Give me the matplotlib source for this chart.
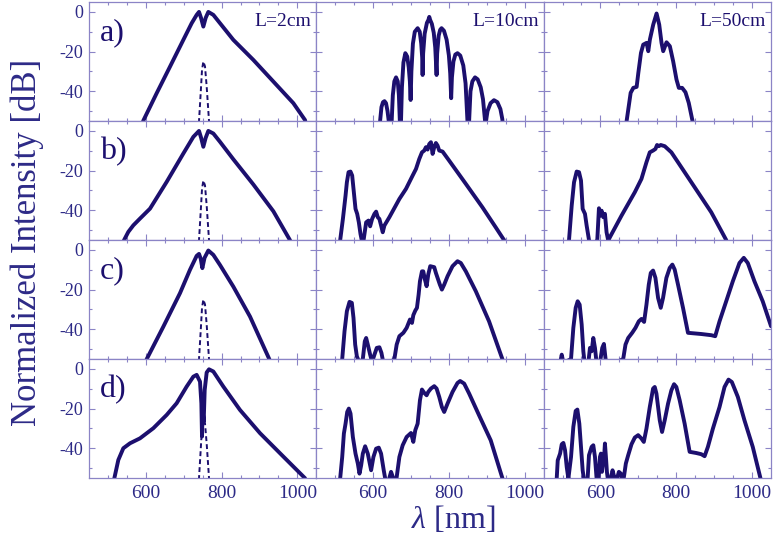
import matplotlib.pyplot as plt

plt.rcParams["font.family"] = ["Liberation Serif", "DejaVu Serif"]
plt.rcParams["axes.unicode_minus"] = False
plt.rcParams["mathtext.fontset"] = "custom"
plt.rcParams["mathtext.it"] = "Liberation Serif:italic"
plt.rcParams["mathtext.rm"] = "Liberation Serif"

line_col = "#1c0f6e"
frame_col = "#8b84c6"
text_col = "#2d2a87"

# ---- column 1 (L = 2 cm) ----
a1_nm = [585, 593.4, 628.6, 663.8, 699.0, 721.0, 734.2, 740.4, 745.7, 751.8, 758.0, 765.0,
         778.2, 795.8, 831.0, 883.8, 936.6, 989.4, 1020.2, 1026]
a1_db = [-60, -54.8, -41.0, -27.6, -14.1, -5.7, -1.5, 0.0, -3.0, -7.4, -3.0, 0.0,
         -1.5, -5.7, -14.1, -24.2, -35.1, -46.0, -54.5, -60]

b1_nm = [538, 542.4, 553.8, 567.0, 584.6, 611.0, 655.0, 699.0, 725.4, 740.4, 746, 751.8, 758,
         765.0, 778.2, 795.8, 831.0, 883.8, 936.6, 980.6, 985]
b1_db = [-60, -55.1, -50.9, -47.6, -44.2, -39.2, -25.7, -11.4, -3.0, 0.0, -3.5, -8.0, -3.5,
         0.0, -1.3, -5.5, -14.3, -27.0, -40.5, -55.1, -60]

c1_nm = [597, 602.2, 646.2, 690.2, 716.6, 734.2, 740.4, 745, 749.2, 755, 765.0,
         778.2, 795.8, 831.0, 875.0, 926.0, 932]
c1_db = [-60, -55.1, -38.7, -21.8, -10.0, -3.0, -2.0, -4.5, -9.2, -4, -0.3,
         -2.5, -7.6, -18.5, -33.6, -55.1, -60]

d1_nm = [512, 516.9, 527.4, 540.6, 558.2, 584.6, 619.8, 655.0, 681.4, 707.8, 725.4, 734.2,
         743.0, 746.6, 748.3, 750.0, 752.7, 755.4, 760.6, 766.8, 778.2, 804.6, 848.6, 901.4,
         963.0, 1020.2, 1025]
d1_db = [-60, -55.1, -45.9, -40.0, -37.5, -35.0, -29.9, -23.2, -17.3, -8.9, -3.9, -3.0,
         -6.4, -17.3, -34.1, -20.7, -26.7, -10.6, -1.8, -0.2, -1.3, -8.9, -20.7, -32.4,
         -44.2, -55.1, -60]

# input pulse (dashed), same in every row of column 1
pump_nm = [738, 740.4, 744.8, 748.3, 751.8, 756.2, 760.6, 766.8, 769]
pump_db = [-60, -55, -41, -29.3, -25, -27.5, -37.6, -55, -60]

# ---- column 2 (L = 10 cm) ----
a2_nm = [614, 618.4, 622, 626, 630, 634, 638, 641.2, 645,
         649, 652, 656, 660.5, 665, 668, 670.5, 672,
         673.6, 676, 680, 685, 690, 694, 697, 699,
         701, 705, 710, 717.5, 723, 727, 729.5, 730.6,
         732, 736, 742, 746, 748.2, 750.5, 755, 760, 764, 767.5,
         769, 773, 777, 780.6, 787, 794, 800, 803.5, 806,
         808, 812, 817, 822.7, 830, 838, 844, 849, 851,
         853.4, 857, 862, 869, 876, 884, 890, 895.5, 897,
         898, 902, 910, 919, 928, 936, 941, 944]
a2_db = [-62, -55, -48, -45.5, -45, -46, -50, -55, -62,
         -55, -42, -35, -33, -35, -42, -55, -60,
         -55, -38, -25.5, -20.8, -22.5, -28, -35, -44.4,
         -30, -16, -10, -8.2, -10, -16, -23, -31.8,
         -21, -11, -5.5, -4, -2.5, -4, -6, -10.5, -18, -31.8,
         -21, -12, -9, -8.2, -9.5, -14, -22, -31, -43.5,
         -33, -25, -21.5, -20.8, -22, -27, -36, -55, -62,
         -55, -40, -35, -33, -34, -38, -44, -55, -60,
         -55, -50, -46, -44.5, -45.5, -49, -54, -60]

b2_nm = [510, 513.1, 520.2, 527.2, 530.7, 535.1, 540.3, 544.7, 549.1, 553.5, 557.9, 562.3, 566.6,
         572.8, 577.2, 581.6, 587.7, 592.1, 597.3, 603.5, 607.9, 612.2, 616.6, 621.0, 625.4,
         629.8, 642.9, 669.3, 686.8, 704.3, 713.1, 721.9, 728.9, 735.0, 739.4, 743.8, 748.2,
         752.6, 757.0, 761.3, 765.7, 770.1, 774.5, 783.3, 800.8, 844.7, 888.5, 923.6, 945.5, 950]
b2_db = [-60, -55, -44.4, -32.6, -25.9, -20.8, -20.5, -22.5, -30.9, -39.3, -41.8, -46.1, -51.9,
         -57.8, -51.9, -46.1, -45.2, -48.1, -44.4, -41.8, -40.7, -43.5, -44.4, -47.7, -51.1,
         -47.7, -43.5, -34.3, -29.2, -22.5, -19.2, -14.1, -10.8, -9.9, -8.2, -9.4, -6.6,
         -5.7, -11.6, -8.2, -6.1, -7.4, -9.9, -10.4, -15.0, -26.7, -38.5, -48.6, -55, -60]

c2_nm = [515, 518.4, 524.5, 530.7, 537.7, 543.8, 548.2, 552.6, 557.0, 564.0, 572.8, 578.0,
         581.6, 585.9, 592.1, 597.3, 603.5, 609.6, 616.6, 621.9, 625.4, 634.2, 656.1, 662.2,
         669.3, 679.8, 688.5, 697.3, 702.6, 706.1, 711.3, 715.7, 720.1, 723.6, 728.9, 732.4,
         736.8, 741.2, 745.5, 750.8, 761.3, 765.7, 776.2, 781.5, 787.6, 796.4, 809.6, 822.7,
         831.5, 844.7, 871.0, 906.0, 941.1, 945]
c2_db = [-60, -55, -41, -30.9, -26.2, -26.7, -34.3, -47.7, -53.6, -57, -55, -46.1,
         -44.4, -47.7, -52.8, -56.5, -52.8, -49.4, -49.1, -51.9, -55.3, -58.7, -55, -47.7,
         -43.5, -41.8, -39.3, -35.1, -36.8, -32.9, -30.6, -29.2, -22.5, -15.8, -10.8, -10.8,
         -15.0, -18.3, -12.4, -8.2, -8.7, -11.6, -17.5, -20.0, -17.5, -13.3, -8.2, -5.7,
         -6.6, -10.8, -20.8, -36.0, -55, -60]

d2_nm = [510, 513.1, 518.4, 522.8, 527.2, 531.6, 535.9, 540.3, 546.5, 553.5, 559.6, 564.0,
         568.4, 572.8, 578.9, 585.9, 594.7, 600.8, 607.9, 614.9, 621.0, 628.0, 632.4, 641.2,
         647.3, 653.5, 660.5, 669.3, 678.0, 688.5, 700.0, 706.1, 711.3, 717.5, 723.6, 728.9,
         735.0, 741.2, 745.5, 752.6, 761.3, 767.5, 774.5, 781.5, 787.6, 796.4, 809.6, 822.7,
         829.7, 840.3, 853.4, 879.7, 910.4, 941.1, 945]
d2_db = [-60, -55, -44.4, -32.6, -27.6, -21.7, -20.0, -22.5, -34.3, -42.7, -47.7, -52.8,
         -48.6, -42.7, -39.0, -42.7, -51.1, -44.4, -40.2, -39.7, -42.7, -51.1, -55.8, -56.1,
         -51.9, -55.3, -57, -44.4, -38.5, -34.3, -32.3, -36.8, -30.9, -27.6, -15.8, -10.4,
         -12.1, -13.3, -11.6, -9.9, -8.7, -9.9, -14.1, -19.2, -21.7, -17.5, -11.6, -7.1,
         -6.1, -7.4, -12.4, -23.4, -36.0, -55, -60]

# ---- column 3 (L = 50 cm) ----
a3_nm = [665, 669.3, 679.8, 686.8, 695.6, 700.0, 707.0, 713.0, 721.9, 726.3, 730.6, 739.4,
         748.2, 755.2, 761.3, 765.7, 774.5, 783.3, 792.0, 800.8, 807.0, 815.7, 824.5, 833.2,
         842.9, 846]
a3_db = [-60, -54.8, -40.8, -38.3, -37.8, -30.8, -20.7, -16.5, -15.6, -19.8, -13.9, -6.4,
         -0.8, -6.4, -15.6, -19.8, -15.3, -17.3, -24.9, -34.1, -38.3, -38.3, -40.5, -45.9,
         -54.8, -60]

b3_nm = [514, 517.1, 524.2, 530.3, 537.3, 543.5, 548.7, 553.1, 559.2, 563.6, 569.8, 576.8,
         591.7, 596.1, 599.6, 603.1, 607.5, 611.9, 616.2, 620.6, 625.0, 655.7, 690.8, 708.3,
         721.5, 730.3, 739.0, 745.2, 749.5, 754.0, 759.2, 769.7, 787.3, 804.8, 848.7, 892.5,
         932.0, 936]
b3_db = [-60, -55, -37.6, -25.9, -20.5, -20.8, -25.0, -39.3, -41.8, -47.7, -55, -58.7,
         -55, -39.0, -42.7, -40.2, -43.5, -41.8, -51.1, -55.3, -53.6, -42.7, -30.9, -24.2,
         -15.8, -10.8, -9.9, -9.1, -7.1, -7.7, -7.1, -7.7, -10.8, -15.8, -28.4, -41.0,
         -55, -60]

c3_nm = [493.5, 497.9, 502.2, 522.4, 528.5, 534.7, 539.9, 545.2, 550.5, 554.9, 559.2, 568.0,
         572.4, 576.8, 581.2, 585.6, 589.9, 598.7, 604.8, 609.2, 613.6, 620.6, 660.1, 666.2,
         673.3, 683.8, 692.5, 701.3, 708.3, 715.3, 721.5, 727.6, 732.9, 739.0, 745.2, 752.2,
         759.2, 765.3, 774.1, 782.9, 789.9, 796.0, 804.8, 818.0, 831.1, 866.2, 892.5, 903.0,
         914.4, 932.0, 949.5, 967.0, 978.4, 989.0, 1006.5, 1028.4, 1050.4]
c3_db = [-57, -52.8, -57, -55, -39.3, -29.2, -25.9, -27.6, -37.6, -51.1, -58.7, -57,
         -49.4, -51.1, -44.4, -49.4, -57, -57, -49.4, -47.4, -55, -58.7, -55, -47.7,
         -44.4, -41.8, -39.3, -36.0, -34.8, -36.3, -27.6, -17.5, -11.6, -10.4, -14.1, -24.2,
         -29.2, -24.2, -14.1, -9.1, -7.4, -9.9, -17.5, -29.2, -41.8, -42.4, -43.0, -43.5,
         -36.0, -25.9, -15.8, -6.6, -4.0, -6.6, -15.8, -25.9, -38.5]

d3_nm = [482, 484.7, 487.3, 493.5, 497.9, 502.2, 506.6, 511.0, 515.4, 522.4, 528.5, 534.7,
         539.1, 544.3, 548.7, 553.1, 557.5, 566.3, 569.8, 576.8, 581.2, 585.6, 589.9, 594.3,
         598.7, 601.3, 604.0, 606.6, 609.2, 611.9, 614.5, 617.1, 620.6, 627.6, 632.0, 636.4,
         642.6, 648.7, 654.0, 660.1, 667.1, 673.3, 682.0, 690.8, 699.6, 708.3, 714.5, 721.5,
         730.3, 739.0, 743.4, 747.8, 756.6, 762.7, 769.7, 778.5, 787.3, 794.3, 800.4, 809.2,
         822.3, 835.5, 853.0, 866.2, 875.0, 883.7, 896.9, 914.4, 927.6, 938.1, 946.9, 962.7,
         980.2, 1002.1, 1022.3, 1026]
d3_db = [-60, -55, -46.1, -42.7, -38.0, -37.3, -41.0, -49.4, -55.3, -44.4, -29.2, -21.2,
         -20.5, -27.6, -39.3, -51.1, -57, -55, -43.5, -39.3, -38.5, -44.4, -55.3, -57,
         -44.4, -42.7, -51.9, -47.7, -46.1, -37.6, -44.4, -51.9, -57, -55, -51.1, -54.5,
         -56.1, -51.9, -52.8, -57, -47.7, -43.5, -38.0, -34.6, -33.4, -35.1, -36.8, -30.1,
         -19.2, -9.9, -9.1, -12.4, -25.9, -31.8, -25.9, -17.5, -10.8, -7.7, -9.1, -15.8,
         -27.6, -41.8, -42.4, -43.0, -44.0, -39.3, -30.1, -19.2, -9.1, -5.4, -6.6, -14.1,
         -25.9, -39.3, -55, -60]

row_labels = ["a)", "b)", "c)", "d)"]
length_labels = ["L=2cm", "L=10cm", "L=50cm"]
curves = [[(a1_nm, a1_db), (a2_nm, a2_db), (a3_nm, a3_db)],
          [(b1_nm, b1_db), (b2_nm, b2_db), (b3_nm, b3_db)],
          [(c1_nm, c1_db), (c2_nm, c2_db), (c3_nm, c3_db)],
          [(d1_nm, d1_db), (d2_nm, d2_db), (d3_nm, d3_db)]]

W, H = 773, 539
fig = plt.figure(figsize=(W / 100, H / 100), dpi=100)
col_left = [89, 316.3, 543.6]
row_top = [2, 121, 240, 359]
pw, ph = 227.3, 119

for r in range(4):
    for c in range(3):
        ax = fig.add_axes([col_left[c] / W, 1 - (row_top[r] + ph) / H, pw / W, ph / H])
        x, y = curves[r][c]
        ax.plot(x, y, color=line_col, lw=2.8, solid_joinstyle="round", solid_capstyle="round")
        if c == 0:
            ax.plot(pump_nm, pump_db, color=line_col, lw=1.4, dashes=(2.5, 1.6))
            ax.text(11 / pw, 1 - 31 / ph, row_labels[r], transform=ax.transAxes,
                    ha="left", va="center", fontsize=23, color=line_col)
        if r == 0:
            ax.text(1 - 5 / pw, 1 - 20 / ph, length_labels[c], transform=ax.transAxes,
                    ha="right", va="center", fontsize=14, color=line_col)
        ax.set_xlim(450, 1050)
        ax.set_ylim(-55, 5)
        ax.set_xticks([600, 800, 1000])
        ax.set_xticks(range(500, 1050, 50), minor=True)
        ax.set_yticks([0, -20, -40])
        ax.set_yticks([-10, -30, -50], minor=True)
        ax.tick_params(which="both", direction="in", top=True, right=True,
                       color=frame_col, labelcolor=text_col, width=0.8)
        ax.tick_params(which="major", length=4)
        ax.tick_params(which="minor", length=2.5)
        ax.tick_params(axis="x", labelsize=14, pad=5, labelbottom=(r == 3))
        ax.tick_params(axis="y", labelsize=13, pad=4, labelleft=(c == 0))
        for s in ax.spines.values():
            s.set_color(frame_col)
            s.set_linewidth(0.9)

fig.text(27 / W, 1 - 242 / H, "Normalized Intensity [dB]", rotation=90,
         ha="center", va="center", fontsize=25, color=text_col)
fig.text(453 / W, 1 - 520 / H, r"$\lambda$ [nm]", ha="center", va="center",
         fontsize=23, color=text_col)

fig.savefig("out.png", dpi=100)
